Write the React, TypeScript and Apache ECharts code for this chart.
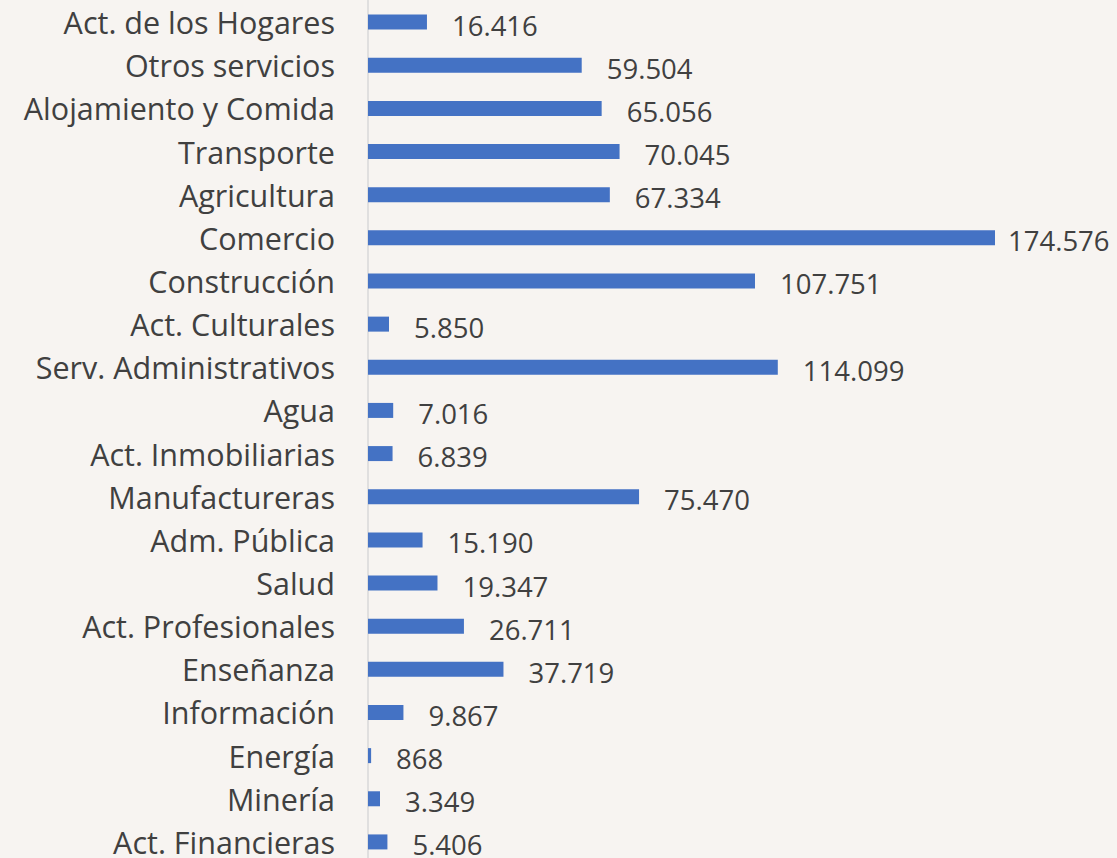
import React, { useEffect, useRef } from "react";
import * as echarts from "echarts";

const categories = [
  "Act. de los Hogares",
  "Otros servicios",
  "Alojamiento y Comida",
  "Transporte",
  "Agricultura",
  "Comercio",
  "Construcción",
  "Act. Culturales",
  "Serv. Administrativos",
  "Agua",
  "Act. Inmobiliarias",
  "Manufactureras",
  "Adm. Pública",
  "Salud",
  "Act. Profesionales",
  "Enseñanza",
  "Información",
  "Energía",
  "Minería",
  "Act. Financieras",
];

const values = [
  16416, 59504, 65056, 70045, 67334, 174576, 107751, 5850, 114099, 7016, 6839,
  75470, 15190, 19347, 26711, 37719, 9867, 868, 3349, 5406,
];

const fmt = (v: number) =>
  String(Math.round(v)).replace(/\B(?=(\d{3})+(?!\d))/g, ".");

export default function App() {
  const ref = useRef<HTMLDivElement>(null);
  useEffect(() => {
    if (!ref.current) return;
    const chart = echarts.init(ref.current, undefined, { renderer: "svg" });
    const maxV = Math.max(...values);
    chart.setOption({
      animation: false,
      backgroundColor: "#F7F4F1",
      grid: { left: 368, width: 627, top: 0.5, height: 863 },
      xAxis: {
        type: "value",
        min: 0,
        max: maxV,
        show: false,
      },
      yAxis: {
        type: "category",
        data: categories,
        inverse: true,
        axisLine: { show: true, lineStyle: { color: "#D9D9D9", width: 1.5 } },
        axisTick: { show: false },
        axisLabel: {
          color: "#404040",
          fontSize: 30.5,
          fontFamily: "Open Sans",
          margin: 33,
        },
      },
      series: [
        {
          type: "bar",
          data: values.map((v) =>
            v === maxV
              ? { value: v, label: { distance: 13 } }
              : { value: v }
          ),
          barWidth: 15,
          itemStyle: { color: "#4472C4" },
          label: {
            show: true,
            position: "right",
            distance: 25,
            color: "#404040",
            fontSize: 27.5,
            fontFamily: "Open Sans",
            offset: [0, 3],
            formatter: (p: any) => fmt(p.value),
          },
        },
      ],
    });
    return () => chart.dispose();
  }, []);
  return (
    <div
      ref={ref}
      style={{ position: "fixed", left: 0, top: 0, width: 1117, height: 866 }}
    />
  );
}
